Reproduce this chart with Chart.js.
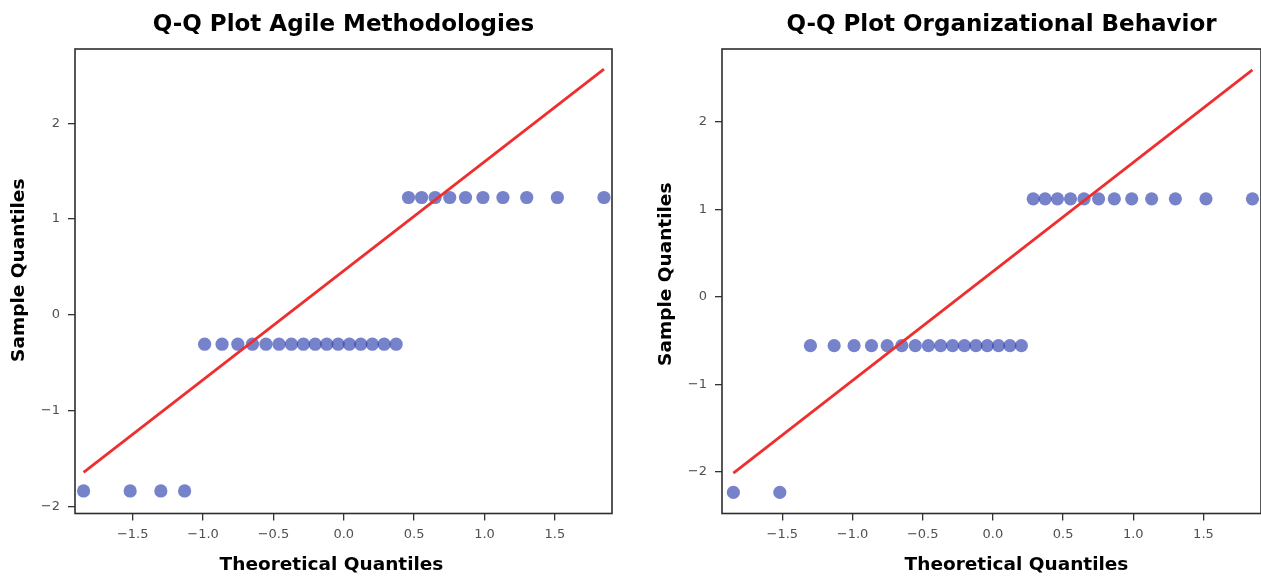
<!DOCTYPE html>
<html>
<head>
<meta charset="utf-8">
<script src="https://cdn.jsdelivr.net/npm/chart.js@4/dist/chart.umd.min.js"></script>
<style>
  html, body { margin: 0; padding: 0; background: #fff; overflow: hidden; }
  body { width: 1261px; height: 576px; position: relative; }
  canvas { position: absolute; top: 0; }
  #agile { left: 0; }
  #org { left: 647px; }
</style>
</head>
<body>
<canvas id="agile" width="647" height="576"></canvas>
<canvas id="org" width="700" height="576"></canvas>
<script>
// theoretical normal quantiles, n = 30
const theoQuantiles = [
  -1.849, -1.518, -1.300, -1.131, -0.989, -0.865, -0.753, -0.649, -0.553, -0.460,
  -0.372, -0.287, -0.203, -0.121, -0.040, 0.040, 0.121, 0.203, 0.287, 0.372,
  0.460, 0.553, 0.649, 0.753, 0.865, 0.989, 1.131, 1.300, 1.518, 1.849
];

// sample quantiles (sorted, standardized)
const agileSample = [
  -1.837, -1.837, -1.837, -1.837,
  -0.306, -0.306, -0.306, -0.306, -0.306, -0.306, -0.306, -0.306,
  -0.306, -0.306, -0.306, -0.306, -0.306, -0.306, -0.306, -0.306,
  1.225, 1.225, 1.225, 1.225, 1.225, 1.225, 1.225, 1.225, 1.225, 1.225
];
const orgSample = [
  -2.236, -2.236,
  -0.559, -0.559, -0.559, -0.559, -0.559, -0.559, -0.559, -0.559,
  -0.559, -0.559, -0.559, -0.559, -0.559, -0.559, -0.559, -0.559,
  1.118, 1.118, 1.118, 1.118, 1.118, 1.118, 1.118, 1.118, 1.118, 1.118, 1.118, 1.118
];

// reference line end points
const agileLineX = [-1.849, 1.849];
const agileLineY = [-1.642, 2.565];
const orgLineX = [-1.849, 1.849];
const orgLineY = [-2.015, 2.591];

const xTickVals = [-1.5, -1.0, -0.5, 0.0, 0.5, 1.0, 1.5];
const yTickVals = [-2, -1, 0, 1, 2];

const FONT = "'DejaVu Sans', Verdana, sans-serif";
const minus = s => s.replace('-', '\u2212');

// frame round the plot area + title and axis labels placed like the original
const qqDecor = {
  id: 'qqDecor',
  afterDatasetsDraw(chart, args, opts) {
    const a = chart.chartArea, ctx = chart.ctx;
    const cx = (a.left + a.right) / 2, cy = (a.top + a.bottom) / 2;
    ctx.save();
    ctx.strokeStyle = '#2e2e2e';
    ctx.lineWidth = 1.6;
    ctx.strokeRect(a.left, a.top, a.right - a.left, a.bottom - a.top);

    ctx.fillStyle = '#000';
    ctx.textAlign = 'center';
    ctx.textBaseline = 'alphabetic';
    ctx.font = 'bold 23px ' + FONT;
    ctx.fillText(opts.title, cx + opts.titleDx, 31);

    ctx.font = 'bold 18.5px ' + FONT;
    ctx.fillText('Theoretical Quantiles', cx + opts.xLabelDx, 570);

    ctx.translate(a.left - 51, cy + opts.yLabelDy);
    ctx.rotate(-Math.PI / 2);
    ctx.fillText('Sample Quantiles', 0, 0);
    ctx.restore();
  }
};

function qqChart(id, title, sample, lineX, lineY, xMin, xMax, yMin, yMax, padRight, dx) {
  const points = theoQuantiles.map((q, i) => ({ x: q, y: sample[i] }));
  const line = lineX.map((x, i) => ({ x: x, y: lineY[i] }));
  const tickStyle = { color: '#505050', font: { family: FONT, size: 13 } };
  const gridStyle = { drawOnChartArea: false, drawTicks: true, tickLength: 7, color: '#333', lineWidth: 1.3 };

  new Chart(document.getElementById(id), {
    type: 'scatter',
    data: {
      datasets: [
        {
          type: 'line',
          data: line,
          borderColor: '#ee2f2f',
          borderWidth: 2.8,
          pointRadius: 0,
          fill: false,
          order: 0
        },
        {
          data: points,
          backgroundColor: 'rgba(40, 60, 170, 0.64)',
          borderWidth: 0,
          pointRadius: 6.6,
          order: 1
        }
      ]
    },
    options: {
      responsive: false,
      animation: false,
      devicePixelRatio: 1,
      layout: { padding: { left: 0, right: padRight, top: 49, bottom: 0 } },
      plugins: {
        legend: { display: false },
        tooltip: { enabled: false },
        title: { display: false },
        qqDecor: { title: title, titleDx: dx[0], xLabelDx: dx[1], yLabelDy: dx[2] }
      },
      scales: {
        x: {
          type: 'linear',
          min: xMin,
          max: xMax,
          afterFit: s => { s.height = 62.5; },
          afterBuildTicks: s => { s.ticks = xTickVals.map(v => ({ value: v })); },
          grid: gridStyle,
          border: { display: false },
          ticks: Object.assign({ padding: 6, autoSkip: false, maxRotation: 0,
            callback: v => minus(Number(v).toFixed(1)) }, tickStyle)
        },
        y: {
          type: 'linear',
          min: yMin,
          max: yMax,
          afterFit: s => { s.width = 75; },
          afterBuildTicks: s => { s.ticks = yTickVals.map(v => ({ value: v })); },
          grid: gridStyle,
          border: { display: false },
          ticks: Object.assign({ padding: 8, autoSkip: false,
            callback: v => minus(String(v)) }, tickStyle)
        }
      }
    },
    plugins: [qqDecor]
  });
}

qqChart('agile', 'Q-Q Plot Agile Methodologies', agileSample, agileLineX, agileLineY,
  -1.91, 1.906, -2.072, 2.774, 35, [0, -12, -11]);
qqChart('org', 'Q-Q Plot Organizational Behavior', orgSample, orgLineX, orgLineY,
  -1.93, 1.91, -2.477, 2.83, 86, [10, 25, -7]);
</script>
</body>
</html>
